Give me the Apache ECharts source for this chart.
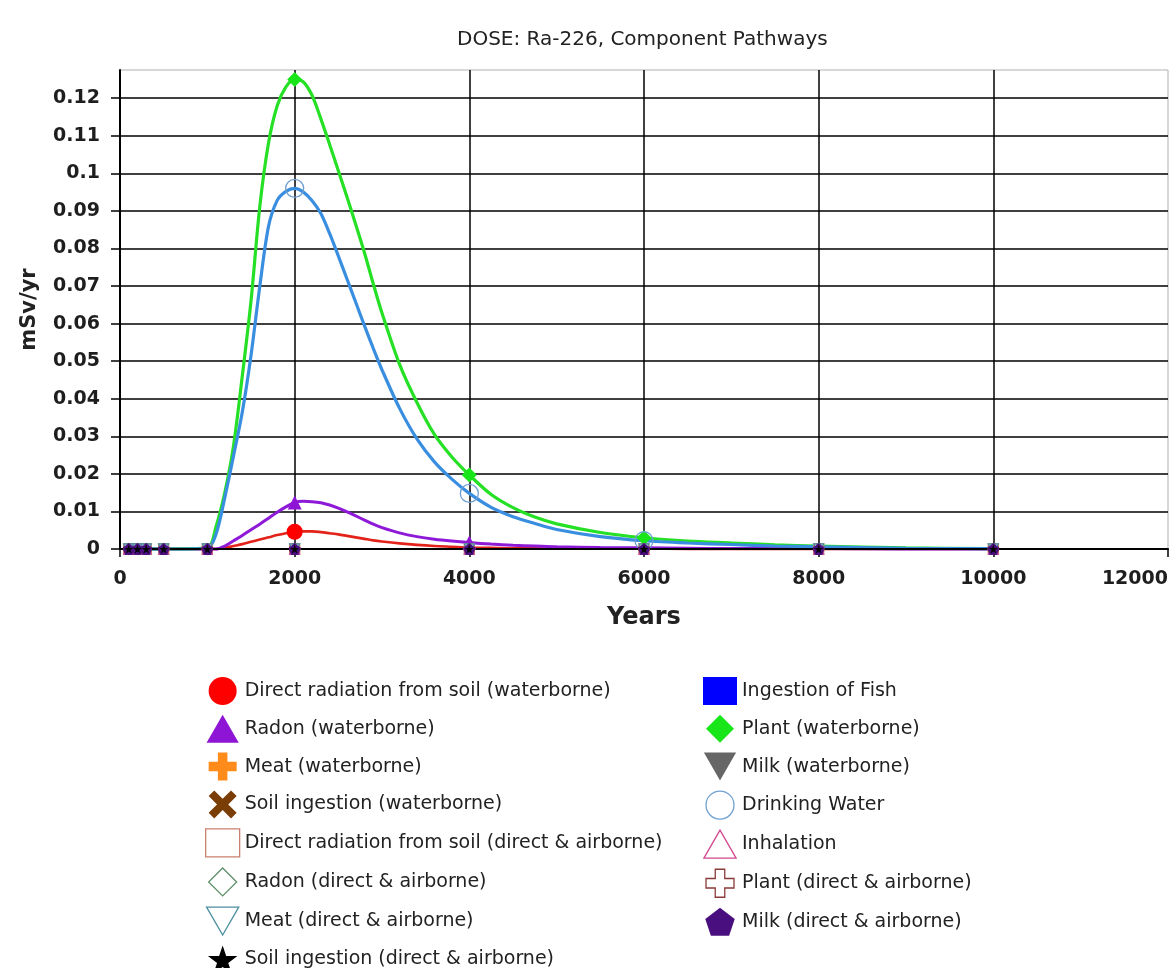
<!DOCTYPE html>
<html>
<head>
<meta charset="utf-8">
<title>DOSE: Ra-226, Component Pathways</title>
<script src="https://cdn.jsdelivr.net/npm/echarts@6/dist/echarts.min.js"></script>
<style>
  html, body { margin: 0; padding: 0; background: #ffffff; }
  #chart { width: 1175px; height: 968px; }
</style>
</head>
<body>
<div id="chart"></div>
<script>
// Time grid (years) for the computed pathway curves
const YEARS = [100, 200, 300, 500, 1000, 1100, 1200, 1300, 1400, 1500, 1600, 1700, 1800, 1900, 2000,
  2100, 2200, 2300, 2400, 2500, 2600, 2700, 2800, 2900, 3000, 3200, 3400, 3600, 3800, 4000,
  4250, 4500, 4750, 5000, 5500, 6000, 6500, 7000, 7500, 8000, 9000, 10000];

// Years at which the pathway symbols are plotted
const MARKER_YEARS = [100, 200, 300, 500, 1000, 2000, 4000, 6000, 8000, 10000];
// Curve symbols are only drawn where the dose is at least this large
const MARKER_MIN_DOSE = 0.001;

// Dose (mSv/yr) on YEARS
const DIRECT_SOIL_WB = [0, 0, 0, 0, 0, 0, 0.0003, 0.0008, 0.0013, 0.0019, 0.0025, 0.0031, 0.0037, 0.0042, 0.0046,
  0.0047, 0.0047, 0.0045, 0.0042, 0.0039, 0.0035, 0.0031, 0.0027, 0.0023, 0.0020, 0.0015, 0.0011, 0.0008, 0.0006, 0.0004,
  0.0003, 0.0002, 0.0002, 0.0001, 0.0001, 0.0001, 0, 0, 0, 0, 0, 0];
const RADON_WB = [0, 0, 0, 0, 0, 0, 0.0008, 0.0022, 0.0036, 0.0051, 0.0066, 0.0082, 0.0098, 0.0112, 0.0124,
  0.0127, 0.0126, 0.0123, 0.0117, 0.0109, 0.0099, 0.0088, 0.0077, 0.0066, 0.0057, 0.0043, 0.0033, 0.0026, 0.0021, 0.0017,
  0.0013, 0.0010, 0.0008, 0.0006, 0.0004, 0.0003, 0.0002, 0.0001, 0.0001, 0.0001, 0, 0];
const PLANT_WB = [0, 0, 0, 0, 0.0003, 0.0060, 0.0150, 0.0275, 0.0460, 0.0660, 0.0910, 0.1080, 0.1180, 0.1230, 0.1250,
  0.1243, 0.1207, 0.1145, 0.1077, 0.1007, 0.0936, 0.0863, 0.0788, 0.0706, 0.0628, 0.0492, 0.0390, 0.0305, 0.0245, 0.0197,
  0.0145, 0.0110, 0.0085, 0.0067, 0.0044, 0.0030, 0.0021, 0.0016, 0.0011, 0.0008, 0.0003, 0.0001];
const DRINKING_WATER = [0, 0, 0, 0, 0.0002, 0.0040, 0.0137, 0.0248, 0.0364, 0.0515, 0.0698, 0.0858, 0.0928, 0.0952, 0.0960,
  0.0950, 0.0927, 0.0893, 0.0840, 0.0780, 0.0718, 0.0656, 0.0594, 0.0534, 0.0477, 0.0375, 0.0293, 0.0232, 0.0186, 0.0148,
  0.0111, 0.0086, 0.0068, 0.0052, 0.0033, 0.0022, 0.0016, 0.0012, 0.0008, 0.0006, 0.0002, 0.0001];
// Pathways with no dose contribution, on MARKER_YEARS
const NO_DOSE = [0, 0, 0, 0, 0, 0, 0, 0, 0, 0];

// Axis ticks
const X_TICK_STEP = 2000;
const X_MAX = 12000;
const Y_TICK_STEP = 0.01;
const Y_MAX = 0.1275;
const Y_TICKS = [0, 0.01, 0.02, 0.03, 0.04, 0.05, 0.06, 0.07, 0.08, 0.09, 0.1, 0.11, 0.12];

// Custom marker outlines
const PLUS = 'path://M3.3,0 H6.7 V3.3 H10 V6.7 H6.7 V10 H3.3 V6.7 H0 V3.3 H3.3 Z';
const CROSS = 'path://M2,0 L5,3 L8,0 L10,2 L7,5 L10,8 L8,10 L5,7 L2,10 L0,8 L3,5 L0,2 Z';
const DOWN = 'path://M0,0 L10,0 L5,8.7 Z';
const PENTAGON = 'path://M5,0 L10,3.8 L8.1,9.5 L1.9,9.5 L0,3.8 Z';
const STAR = 'path://M5,0 L6.2,3.6 L10,3.6 L6.9,5.9 L8.1,9.5 L5,7.3 L1.9,9.5 L3.1,5.9 L0,3.6 L3.8,3.6 Z';

// Each pathway: name, data, marker and colours (legend order, left column then right column)
const PATHWAYS = [
  { name: 'Direct radiation from soil (waterborne)', x: YEARS, y: DIRECT_SOIL_WB, curve: true, symbol: 'circle', size: 16, fill: '#ff0000', line: '#e32219', lw: 2.6, col: 0 },
  { name: 'Ingestion of Fish', x: MARKER_YEARS, y: NO_DOSE, symbol: 'rect', size: 10, fill: '#0000ff', line: '#0000ff', lw: 2, col: 1 },
  { name: 'Radon (waterborne)', x: YEARS, y: RADON_WB, curve: true, symbol: 'triangle', size: 14, fill: '#8e14d6', line: '#8e1ad8', lw: 3, col: 0 },
  { name: 'Plant (waterborne)', x: YEARS, y: PLANT_WB, curve: true, symbol: 'diamond', size: 15, fill: '#19e619', line: '#25e025', lw: 3.2, col: 1 },
  { name: 'Meat (waterborne)', x: MARKER_YEARS, y: NO_DOSE, symbol: PLUS, size: 10, fill: '#ff8c1a', line: '#ff8c1a', lw: 2, col: 0 },
  { name: 'Milk (waterborne)', x: MARKER_YEARS, y: NO_DOSE, symbol: DOWN, size: 10, fill: '#666666', line: '#666666', lw: 2, col: 1 },
  { name: 'Soil ingestion (waterborne)', x: MARKER_YEARS, y: NO_DOSE, symbol: CROSS, size: 10, fill: '#7a3d05', line: '#7a3d05', lw: 2, col: 0 },
  { name: 'Drinking Water', x: YEARS, y: DRINKING_WATER, curve: true, symbol: 'circle', size: 18, fill: 'rgba(255,255,255,0)', border: '#6f9fd0', line: '#3a8ee0', lw: 3.2, col: 1 },
  { name: 'Direct radiation from soil (direct & airborne)', x: MARKER_YEARS, y: NO_DOSE, symbol: 'rect', size: 10, fill: '#ffffff', border: '#c9806f', line: '#c9806f', lw: 2, col: 0 },
  { name: 'Inhalation', x: MARKER_YEARS, y: NO_DOSE, symbol: 'triangle', size: 10, fill: '#ffffff', border: '#d1478f', line: '#d1478f', lw: 2, col: 1 },
  { name: 'Radon (direct & airborne)', x: MARKER_YEARS, y: NO_DOSE, symbol: 'diamond', size: 10, fill: '#ffffff', border: '#5f8f6a', line: '#5f8f6a', lw: 2, col: 0 },
  { name: 'Plant (direct & airborne)', x: MARKER_YEARS, y: NO_DOSE, symbol: PLUS, size: 10, fill: '#ffffff', border: '#8a3a3a', line: '#8a3a3a', lw: 2, col: 1 },
  { name: 'Meat (direct & airborne)', x: MARKER_YEARS, y: NO_DOSE, symbol: DOWN, size: 10, fill: '#ffffff', border: '#4b8e9f', line: '#4b8e9f', lw: 2, col: 0 },
  { name: 'Milk (direct & airborne)', x: MARKER_YEARS, y: NO_DOSE, symbol: PENTAGON, size: 12, fill: '#4a0f7e', line: '#3b0c66', lw: 2, col: 1 },
  { name: 'Soil ingestion (direct & airborne)', x: MARKER_YEARS, y: NO_DOSE, symbol: STAR, size: 9, fill: '#000000', line: '#000000', lw: 2, col: 0 }
];

const FONT = '"DejaVu Sans", Verdana, sans-serif';

function legendIcon(p) {
  // legend draws the bare marker (no line segment)
  if (typeof p.symbol === 'string' && p.symbol.indexOf('path://') === 0) return p.symbol;
  if (p.symbol === 'triangle') return 'path://M5,0 L10,8.7 L0,8.7 Z';
  if (p.symbol === 'diamond') return 'path://M5,0 L10,5 L5,10 L0,5 Z';
  return p.symbol;
}

function legendItems(col) {
  return PATHWAYS.filter(p => p.col === col).map(p => ({
    name: p.name,
    icon: legendIcon(p),
    itemStyle: p.border
      ? { color: '#ffffff', borderColor: p.border, borderWidth: 1.3 }
      : { color: p.fill, borderWidth: 0 }
  }));
}

const legendBase = {
  orient: 'vertical',
  top: 677,
  height: 320,
  padding: 0,
  itemWidth: 34,
  itemHeight: 28,
  itemGap: 9.8,
  selectedMode: false,
  symbolKeepAspect: true,
  textStyle: { fontFamily: FONT, fontSize: 19, color: '#222222' }
};

function markerSize(p) {
  return v => {
    if (MARKER_YEARS.indexOf(v[0]) < 0) return 0;
    if (p.curve && v[1] < MARKER_MIN_DOSE) return 0;
    return p.size;
  };
}

const series = PATHWAYS.map(p => ({
  name: p.name,
  type: 'line',
  data: p.x.map((t, i) => [t, p.y[i]]),
  symbol: p.symbol,
  symbolSize: markerSize(p),
  showSymbol: true,
  smooth: 0.3,
  clip: false,
  itemStyle: p.border
    ? { color: p.fill, borderColor: p.border, borderWidth: 1.3 }
    : { color: p.fill },
  lineStyle: { color: p.line, width: p.lw },
  emphasis: { disabled: true },
  animation: false
}));

const chart = echarts.init(document.getElementById('chart'), null, { renderer: 'canvas' });
chart.setOption({
  backgroundColor: '#ffffff',
  animation: false,
  title: {
    text: 'DOSE: Ra-226, Component Pathways',
    left: 452,
    top: 25,
    textStyle: { fontFamily: FONT, fontSize: 20, fontWeight: 'normal', color: '#222222' }
  },
  legend: [
    Object.assign({}, legendBase, { left: 205, data: legendItems(0) }),
    Object.assign({}, legendBase, { left: 703, data: legendItems(1) })
  ],
  grid: {
    left: 120, right: 7, top: 70, bottom: 419,
    outerBoundsMode: 'none',
    containLabel: false,
    show: true, borderColor: '#b0b0b0', borderWidth: 1, backgroundColor: '#ffffff'
  },
  xAxis: {
    type: 'value',
    min: 0, max: X_MAX, interval: X_TICK_STEP,
    name: 'Years',
    nameLocation: 'middle',
    nameGap: 57,
    nameTextStyle: { fontFamily: FONT, fontSize: 24, fontWeight: 'bold', color: '#222222' },
    axisLine: { show: true, onZero: false, lineStyle: { color: '#000000', width: 2 } },
    axisTick: { show: true, length: 8, lineStyle: { color: '#000000', width: 1.5 } },
    axisLabel: {
      margin: 21, fontFamily: FONT, fontSize: 19, fontWeight: 'bold', color: '#1e1e1e',
      alignMaxLabel: 'right',
      formatter: v => String(v)
    },
    splitLine: { show: true, showMinLine: false, showMaxLine: false, lineStyle: { color: '#000000', width: 1.5 } }
  },
  yAxis: {
    type: 'value',
    min: 0, max: Y_MAX, interval: Y_TICK_STEP,
    name: 'mSv/yr',
    nameLocation: 'middle',
    nameGap: 80,
    nameTextStyle: { fontFamily: FONT, fontSize: 21, fontWeight: 'bold', color: '#222222' },
    axisLine: { show: true, onZero: false, lineStyle: { color: '#000000', width: 2 } },
    axisTick: { show: true, length: 9, customValues: Y_TICKS, lineStyle: { color: '#000000', width: 1.5 } },
    axisLabel: {
      margin: 20, fontFamily: FONT, fontSize: 19, fontWeight: 'bold', color: '#1e1e1e',
      formatter: v => (v > 0.1205 ? '' : String(+v.toFixed(2)))
    },
    splitLine: { show: true, showMinLine: false, showMaxLine: true, lineStyle: { color: '#000000', width: 1.5 } }
  },
  series: series
});
</script>
</body>
</html>
